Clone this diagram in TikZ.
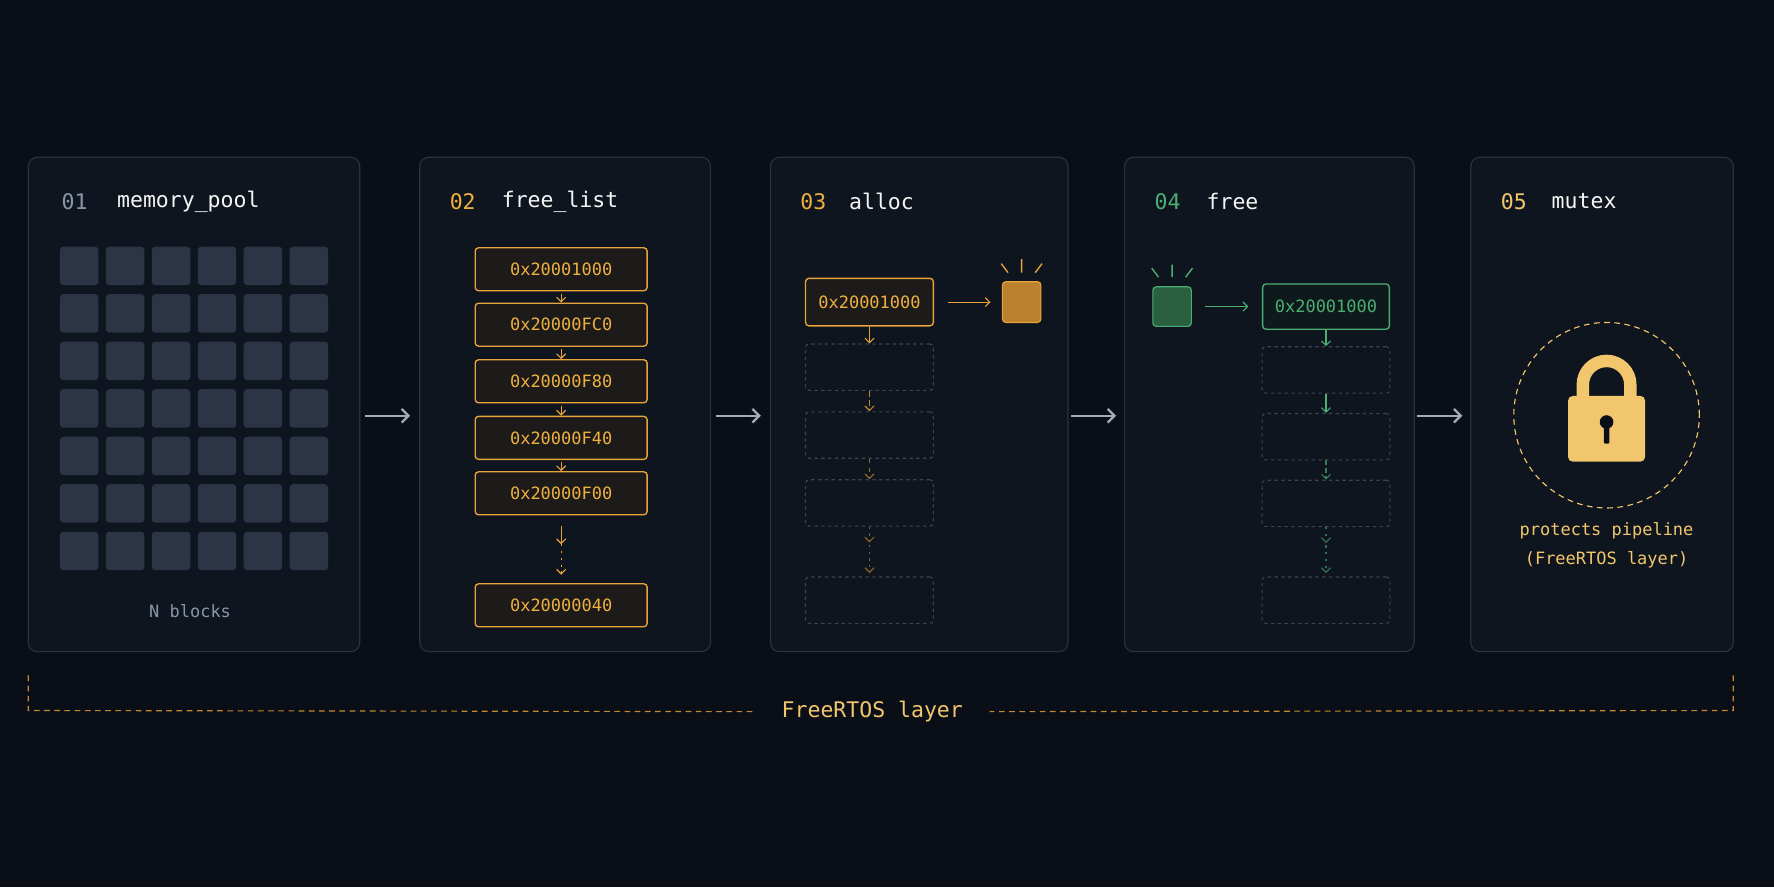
\documentclass[tikz,border=0pt]{standalone}
\usepackage{fontspec}
\setmonofont{DejaVu Sans Mono}
\usetikzlibrary{arrows.meta}
\definecolor{bg}{HTML}{0A0F17}
\definecolor{panelf}{HTML}{0F151E}
\definecolor{paneld}{HTML}{2A323D}
\definecolor{org}{HTML}{E8A33A}
\definecolor{orgt}{HTML}{F0B040}
\definecolor{grn}{HTML}{4CAF72}
\definecolor{ylw}{HTML}{F2C66D}
\definecolor{gry}{HTML}{8A96A8}
\definecolor{sq}{HTML}{2B3545}
\definecolor{dash}{HTML}{3A4452}
\begin{document}
\begin{tikzpicture}[x=1pt,y=-1pt,font=\ttfamily,
 panel/.style={draw=paneld,fill=panelf,rounded corners=8pt,line width=1pt},
 flow/.style={draw=gry!80,line width=2pt,-{Straight Barb[length=6pt,width=12pt]}},
 num/.style={anchor=west,font=\ttfamily\fontsize{19}{20}\selectfont},
 ttl/.style={anchor=west,text=white!92!gray,font=\ttfamily\fontsize{19}{20}\selectfont},
 addr/.style={draw=org,fill=org!8!bg,rounded corners=3pt,line width=1.2pt,minimum width=152pt,minimum height=38pt,text=orgt,font=\ttfamily\fontsize{15}{16}\selectfont},
 emp/.style={draw=dash,dashed,rounded corners=3pt,line width=1pt,minimum width=113pt,minimum height=41pt},
 oa/.style={org,line width=1pt,-{Straight Barb[length=4pt,width=8pt]}},
 ga/.style={grn,line width=1pt,-{Straight Barb[length=4pt,width=8pt]}},
]
\fill[bg] (0,0) rectangle (1568,784);
\useasboundingbox (0,0) rectangle (1568,784);
% panels
\node[panel,minimum width=293pt,minimum height=437pt] (p1) at (171.5,357.5) {};
\node[panel,minimum width=257pt,minimum height=437pt] (p2) at (499.5,357.5) {};
\node[panel,minimum width=263pt,minimum height=437pt] (p3) at (812.5,357.5) {};
\node[panel,minimum width=256pt,minimum height=437pt] (p4) at (1122,357.5) {};
\node[panel,minimum width=232pt,minimum height=437pt] (p5) at (1416,357.5) {};
\draw[flow] ([shift={(4,10)}]p1.east) -- ([shift={(44,10)}]p1.east);
\draw[flow] ([shift={(4,10)}]p2.east) -- ([shift={(44,10)}]p2.east);
\draw[flow] ([shift={(2,10)}]p3.east) -- ([shift={(42,10)}]p3.east);
\draw[flow] ([shift={(2,10)}]p4.east) -- ([shift={(42,10)}]p4.east);
% titles
\node[num,text=gry] (n1) at (51,178) {01}; \node[ttl] (t1) at (100,178) {memory\_pool};
\node[num,text=orgt] (n2) at (394,178) {02}; \node[ttl] (t2) at (440,178) {free\_list};
\node[num,text=orgt] (n3) at (704,178) {03}; \node[ttl] (t3) at (747,178) {alloc};
\node[num,text=grn] (n4) at (1017,178) {04}; \node[ttl] (t4) at (1063,178) {free};
\node[num,text=ylw] (n5) at (1323,178) {05}; \node[ttl] (t5) at (1368,178) {mutex};
% grid
\foreach \i in {0,...,5}{\foreach \j in {0,...,6}{
 \fill[sq,rounded corners=3pt] (53+\i*40.6,218+\j*42) rectangle ++(34,34);}}
\node[text=gry,font=\ttfamily\fontsize{15}{16}\selectfont] (nb) at (168,540) {N blocks};
% free list
\node[addr] (f1) at (496,238) {0x20001000};
\node[addr] (f2) at (496,287) {0x20000FC0};
\node[addr] (f3) at (496,337) {0x20000F80};
\node[addr] (f4) at (496,387) {0x20000F40};
\node[addr] (f5) at (496,436) {0x20000F00};
\node[addr] (f6) at (496,535) {0x20000040};
\draw[oa] ([yshift=-2pt]f1.south) -- (f2.north); \draw[oa] ([yshift=-2pt]f2.south) -- (f3.north);
\draw[oa] ([yshift=-2pt]f3.south) -- (f4.north); \draw[oa] ([yshift=-2pt]f4.south) -- (f5.north);
\coordinate (d1) at (496,465); \coordinate (d2) at (496,481); \coordinate (d3) at (496,508);
\draw[oa] (d1) -- (d2); \draw[oa,dash pattern=on 2pt off 4pt] (d2) -- (d3);
% alloc
\node[addr,minimum width=113pt,minimum height=42pt] (a0) at (768.5,267) {0x20001000};
\node[draw=org,fill=org!80!black,rounded corners=3pt,minimum width=34pt,minimum height=36pt,line width=1pt] (ab) at (903,267) {};
\draw[oa] ([xshift=12pt]a0.east) -- ([xshift=-10pt]ab.west);
\draw[org,line width=1.2pt] (903,229) -- (903,241) (885,233) -- (891,241) (921,233) -- (915,241);
\node[emp] (e1) at (768.5,324.5) {};
\node[emp] (e2) at (768.5,384.5) {};
\node[emp] (e3) at (768.5,444.5) {};
\node[emp] (e4) at (768.5,530.5) {};
\draw[oa] (a0) -- (e1);
\draw[oa,dash pattern=on 5pt off 3pt,org!80!bg] (e1) -- (e2);
\draw[oa,dash pattern=on 4pt off 4pt,org!65!bg] (e2) -- (e3);
\draw[oa,dash pattern=on 2pt off 4pt,org!55!bg] (e3.south) -- ([yshift=-14pt]e3.south);
\draw[oa,dash pattern=on 2pt off 4pt,org!55!bg] ([yshift=-16pt]e3.south) -- ([yshift=3pt]e4.north);
% free
\node[draw=grn,fill=grn!55!black,rounded corners=3pt,minimum width=34pt,minimum height=35pt,line width=1pt] (gb) at (1036,271) {};
\draw[grn,line width=1.2pt] (1036,234) -- (1036,245) (1018,237) -- (1024,245) (1054,237) -- (1048,245);
\node[draw=grn,fill=grn!6!bg,rounded corners=3pt,line width=1.2pt,minimum width=112pt,minimum height=40pt,text=grn,font=\ttfamily\fontsize{15}{16}\selectfont] (g0) at (1172,271) {0x20001000};
\draw[ga] ([xshift=12pt]gb.east) -- ([xshift=-12pt]g0.west);
\node[emp] (h1) at (1172,327) {};
\node[emp] (h2) at (1172,386) {};
\node[emp] (h3) at (1172,445) {};
\node[emp] (h4) at (1172,530.5) {};
\draw[ga] (g0) -- (h1);
\draw[ga] (h1) -- (h2);
\draw[ga,dash pattern=on 4pt off 3pt,grn!70!bg] (h2) -- (h3);
\draw[ga,dash pattern=on 2pt off 4pt,grn!60!bg] (h3.south) -- ([yshift=-14pt]h3.south);
\draw[ga,dash pattern=on 2pt off 4pt,grn!60!bg] ([yshift=-16pt]h3.south) -- ([yshift=3pt]h4.north);
% mutex
\node[draw=ylw,dash pattern=on 5pt off 4pt,circle,minimum size=164pt,line width=1pt,inner sep=0pt] (cir) at (1420,367) {};
\draw[ylw,line width=11pt] (1399,354) -- (1399,340) arc[start angle=180,end angle=360,radius=21] -- (1441,354);
\fill[ylw,rounded corners=4pt] (1386,350) rectangle (1454,408);
\fill[bg] (1420,373) circle (6pt);
\fill[bg,rounded corners=1pt] (1417.5,375) rectangle (1422.5,392);
\node[text=ylw,font=\ttfamily\fontsize{15}{16}\selectfont] (pp) at (1420,469) {protects pipeline};
\node[text=ylw,font=\ttfamily\fontsize{15}{16}\selectfont] (pl) at (1420,495) {(FreeRTOS layer)};
% bracket
\node[text=ylw,font=\ttfamily\fontsize{19}{20}\selectfont] (fl) at (771,629) {FreeRTOS layer};
\coordinate (bl) at (25,597); \coordinate (br) at (1532,597);
\draw[org!85!black,dash pattern=on 5pt off 4pt,line width=1pt] (bl) -- (25,628) -- ([xshift=-20pt]fl.west);
\draw[org!85!black,dash pattern=on 5pt off 4pt,line width=1pt] (br) -- (1532,628) -- ([xshift=20pt]fl.east);
\end{tikzpicture}
\end{document}
